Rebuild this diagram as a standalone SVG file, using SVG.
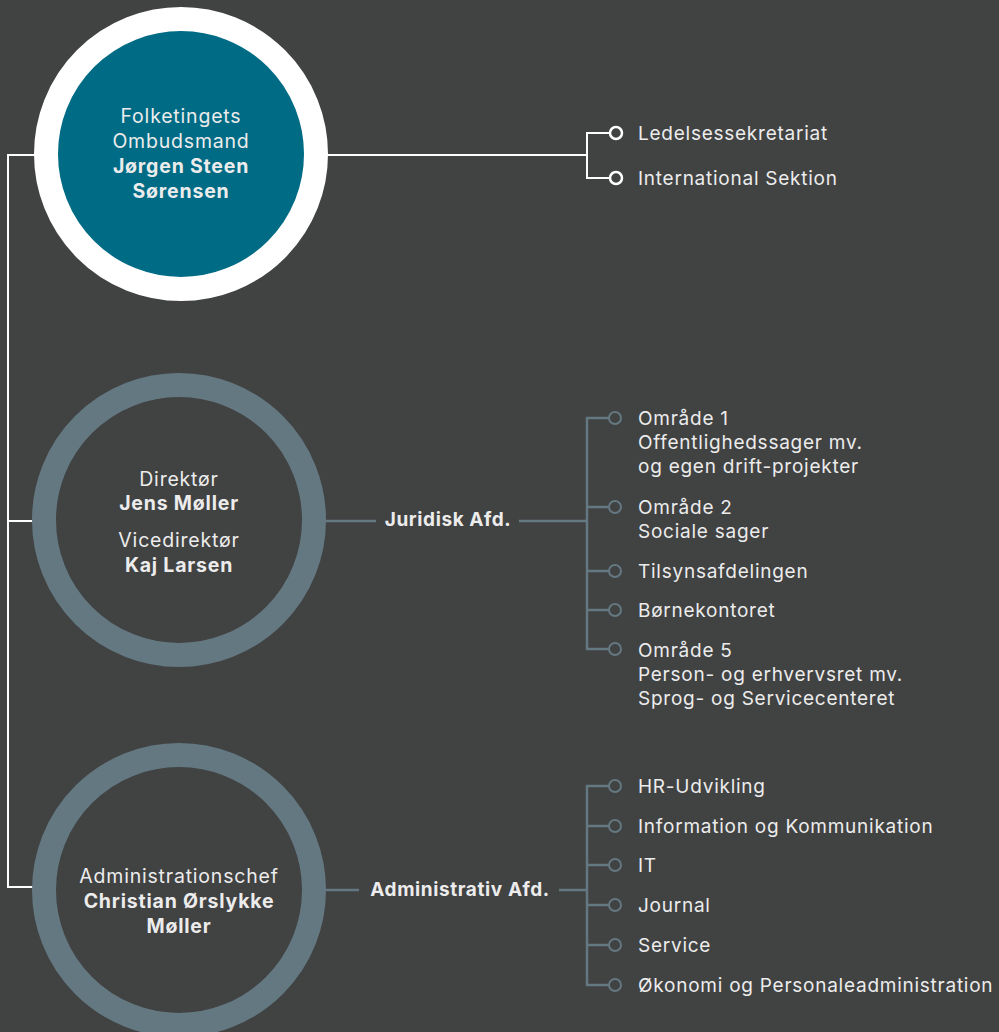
<svg xmlns="http://www.w3.org/2000/svg" width="999" height="1032" viewBox="0 0 999 1032">
<style>
text{font-family:Inter,"Noto Sans","Liberation Sans",sans-serif;fill:#ececec;font-size:19px;letter-spacing:0.75px}
.c{text-anchor:middle;font-size:19.5px;letter-spacing:0.8px}
.b{font-weight:bold}
.lb{letter-spacing:0.6px}
.wl{stroke:#ffffff;stroke-width:2;fill:none}
.gl{stroke:#647882;stroke-width:2.5;fill:none}
.wd{stroke:#ffffff;stroke-width:2.5;fill:#414242}
.gd{stroke:#647882;stroke-width:2;fill:#414242}
</style>
<rect width="999" height="1032" fill="#414242"/>
<g id="connectors">
<polyline class="wl" points="40,155 8,155 8,887 40,887"/>
<line class="wl" x1="8" y1="521" x2="40" y2="521"/>
<line class="wl" x1="320" y1="155" x2="587" y2="155"/>
<polyline class="wl" points="610,133 587,133 587,178 610,178"/>
<line class="gl" x1="320" y1="521" x2="376" y2="521"/>
<line class="gl" x1="519" y1="521" x2="587" y2="521"/>
<polyline class="gl" points="609,418 587,418 587,649 609,649"/>
<line class="gl" x1="587" y1="507" x2="609" y2="507"/>
<line class="gl" x1="587" y1="571" x2="609" y2="571"/>
<line class="gl" x1="587" y1="610" x2="609" y2="610"/>
<line class="gl" x1="320" y1="890" x2="359" y2="890"/>
<line class="gl" x1="559" y1="890" x2="587" y2="890"/>
<polyline class="gl" points="609,786 587,786 587,985 609,985"/>
<line class="gl" x1="587" y1="826" x2="609" y2="826"/>
<line class="gl" x1="587" y1="865" x2="609" y2="865"/>
<line class="gl" x1="587" y1="905" x2="609" y2="905"/>
<line class="gl" x1="587" y1="945" x2="609" y2="945"/>
</g>
<g id="ombudsmand">
<circle cx="181" cy="154" r="135" fill="#006b85" stroke="#ffffff" stroke-width="24"/>
<text class="c" x="181" y="123">Folketingets</text>
<text class="c" x="181" y="148">Ombudsmand</text>
<text class="c b" x="181" y="173">Jørgen Steen</text>
<text class="c b" x="181" y="198">Sørensen</text>
</g>
<g id="direktor">
<circle cx="179" cy="520" r="135" fill="#414242" stroke="#647882" stroke-width="24"/>
<text class="c" x="179" y="486">Direktør</text>
<text class="c b" x="179" y="510">Jens Møller</text>
<text class="c" x="179" y="547">Vicedirektør</text>
<text class="c b" x="179" y="572">Kaj Larsen</text>
</g>
<g id="adminchef">
<circle cx="179" cy="890" r="135" fill="#414242" stroke="#647882" stroke-width="24"/>
<text class="c" x="179" y="883">Administrationschef</text>
<text class="c b" x="179" y="908">Christian Ørslykke</text>
<text class="c b" x="179" y="933">Møller</text>
</g>
<g id="juridisk">
<text class="b lb" x="448" y="526" text-anchor="middle">Juridisk Afd.</text>
</g>
<g id="administrativ">
<text class="b lb" x="460" y="896" text-anchor="middle">Administrativ Afd.</text>
</g>
<g id="top-units">
<circle class="wd" cx="616" cy="133" r="6"/>
<text x="638" y="140">Ledelsessekretariat</text>
<circle class="wd" cx="616" cy="178" r="6"/>
<text x="638" y="185">International Sektion</text>
</g>
<g id="juridisk-units">
<circle class="gd" cx="615" cy="418" r="6"/>
<text x="638" y="425">Område 1</text>
<text x="638" y="449">Offentlighedssager mv.</text>
<text x="638" y="473">og egen drift-projekter</text>
<circle class="gd" cx="615" cy="507" r="6"/>
<text x="638" y="514">Område 2</text>
<text x="638" y="538">Sociale sager</text>
<circle class="gd" cx="615" cy="571" r="6"/>
<text x="638" y="578">Tilsynsafdelingen</text>
<circle class="gd" cx="615" cy="610" r="6"/>
<text x="638" y="617">Børnekontoret</text>
<circle class="gd" cx="615" cy="649" r="6"/>
<text x="638" y="657">Område 5</text>
<text x="638" y="681">Person- og erhvervsret mv.</text>
<text x="638" y="705">Sprog- og Servicecenteret</text>
</g>
<g id="admin-units">
<circle class="gd" cx="615" cy="786" r="6"/>
<text x="638" y="793">HR-Udvikling</text>
<circle class="gd" cx="615" cy="826" r="6"/>
<text x="638" y="833">Information og Kommunikation</text>
<circle class="gd" cx="615" cy="865" r="6"/>
<text x="638" y="872">IT</text>
<circle class="gd" cx="615" cy="905" r="6"/>
<text x="638" y="912">Journal</text>
<circle class="gd" cx="615" cy="945" r="6"/>
<text x="638" y="952">Service</text>
<circle class="gd" cx="615" cy="985" r="6"/>
<text x="638" y="992">Økonomi og Personaleadministration</text>
</g>
</svg>
